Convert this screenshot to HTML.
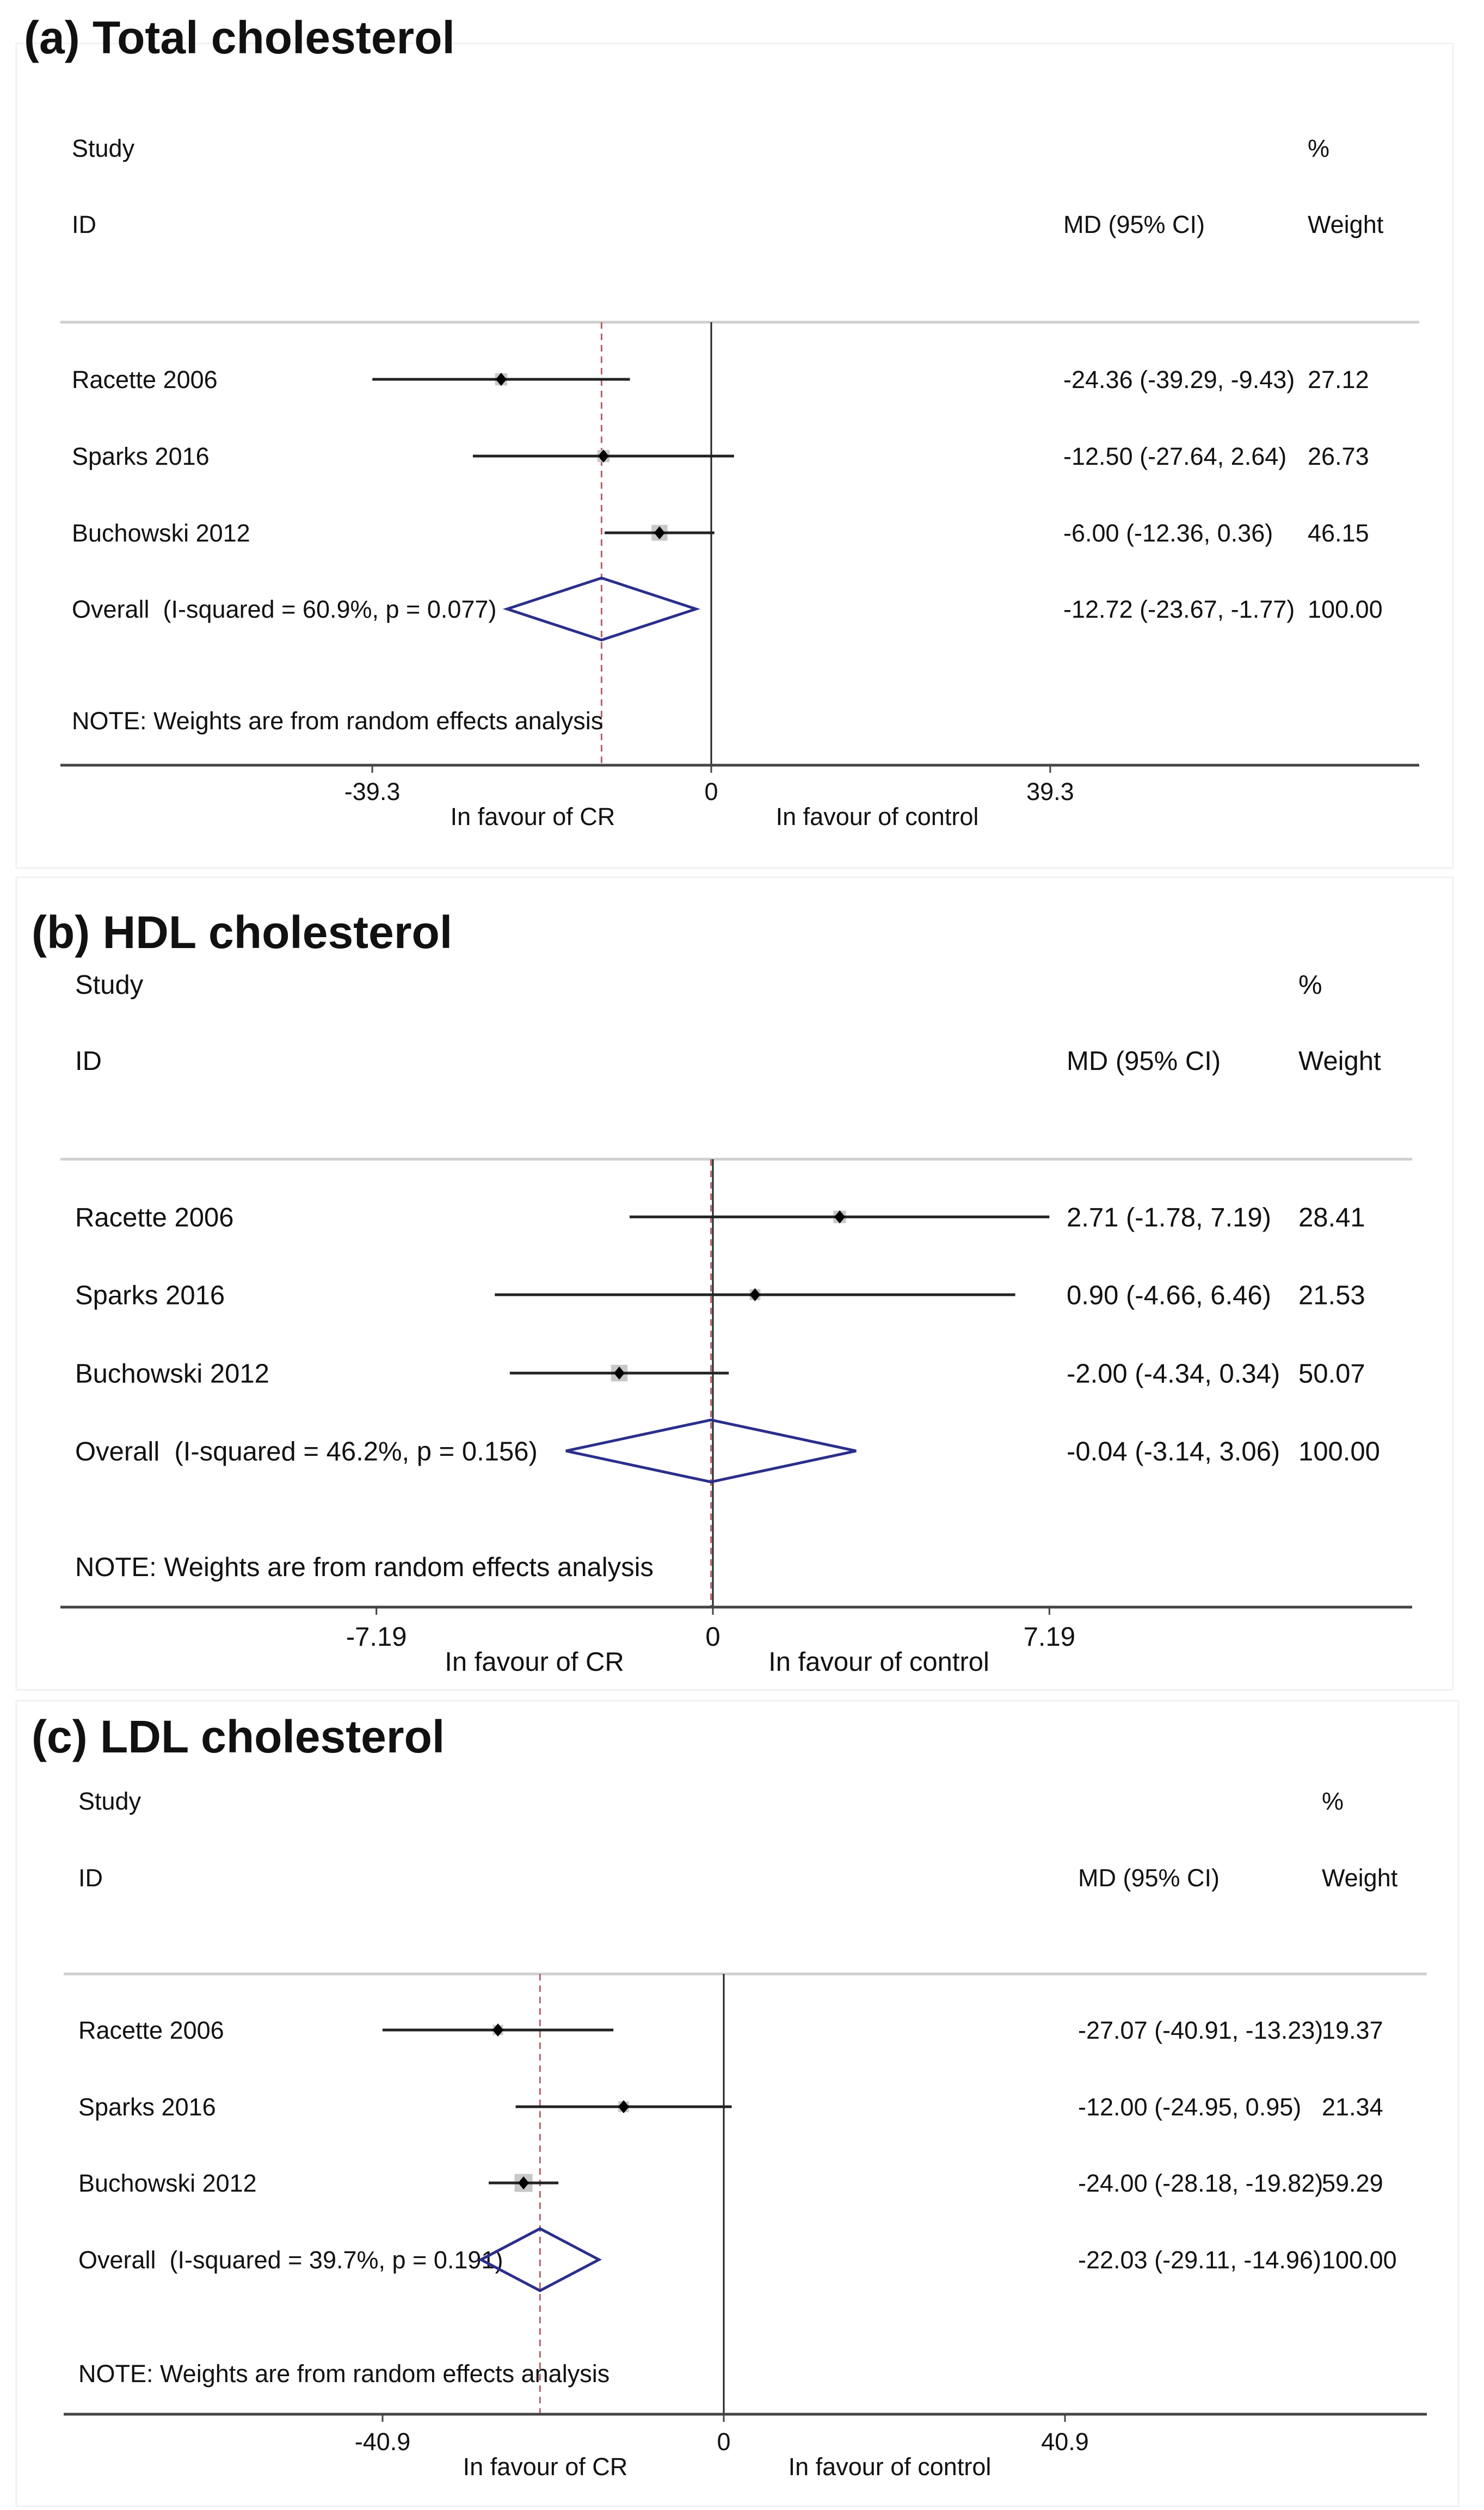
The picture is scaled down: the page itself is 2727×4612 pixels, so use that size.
<!DOCTYPE html>
<html><head><meta charset="utf-8"><style>
html,body{margin:0;padding:0;background:#fff;}
svg{display:block;}
text{font-family:"Liberation Sans",Arial,sans-serif;fill:#111;white-space:pre;}
</style></head>
<body>
<svg id="chart" width="2727" height="4612" viewBox="0 0 2727 4612" xmlns="http://www.w3.org/2000/svg"></svg>
<script>
const studyNames = ["Racette 2006", "Sparks 2016", "Buchowski 2012"];
// Panel a: Total cholesterol
const tcMean = [-24.36, -12.50, -6.00];
const tcLow = [-39.29, -27.64, -12.36];
const tcHigh = [-9.43, 2.64, 0.36];
const tcWeight = [27.12, 26.73, 46.15];
const tcOverall = [-12.72, -23.67, -1.77];
const tcCiLabels = ["-24.36 (-39.29, -9.43)", "-12.50 (-27.64, 2.64)", "-6.00 (-12.36, 0.36)", "-12.72 (-23.67, -1.77)"];
const tcWeightLabels = ["27.12", "26.73", "46.15", "100.00"];
const tcTicks = ["-39.3", "0", "39.3"];
const tcTickValues = [-39.3, 0, 39.3];
// Panel b: HDL
const hdlMean = [2.71, 0.90, -2.00];
const hdlLow = [-1.78, -4.66, -4.34];
const hdlHigh = [7.19, 6.46, 0.34];
const hdlWeight = [28.41, 21.53, 50.07];
const hdlOverall = [-0.04, -3.14, 3.06];
const hdlCiLabels = ["2.71 (-1.78, 7.19)", "0.90 (-4.66, 6.46)", "-2.00 (-4.34, 0.34)", "-0.04 (-3.14, 3.06)"];
const hdlWeightLabels = ["28.41", "21.53", "50.07", "100.00"];
const hdlTicks = ["-7.19", "0", "7.19"];
const hdlTickValues = [-7.19, 0, 7.19];
// Panel c: LDL
const ldlMean = [-27.07, -12.00, -24.00];
const ldlLow = [-40.91, -24.95, -28.18];
const ldlHigh = [-13.23, 0.95, -19.82];
const ldlWeight = [19.37, 21.34, 59.29];
const ldlOverall = [-22.03, -29.11, -14.96];
const ldlCiLabels = ["-27.07 (-40.91, -13.23)", "-12.00 (-24.95, 0.95)", "-24.00 (-28.18, -19.82)", "-22.03 (-29.11, -14.96)"];
const ldlWeightLabels = ["19.37", "21.34", "59.29", "100.00"];
const ldlTicks = ["-40.9", "0", "40.9"];
const ldlTickValues = [-40.9, 0, 40.9];

const NS = "http://www.w3.org/2000/svg";
const svg = document.getElementById("chart");
function mk(tag, attrs, parent, txt) {
  const e = document.createElementNS(NS, tag);
  for (const k in attrs) e.setAttribute(k, attrs[k]);
  if (txt !== undefined) e.textContent = txt;
  (parent || svg).appendChild(e);
  return e;
}

const panels = [
  {key:"total", title:"(a) Total cholesterol", box:[30,80,2670,1595], titleY:98, titleX:44,
   studyY:288, idY:428, topLine:592, rows:[697,838,979,1119], noteY:1340, axisY:1406, tickY:1470, favY:1516,
   lx:111, rx:2608, zeroX:1307, ppu:15.85, textX:132, ciX:1954, wX:2403, fs:45,
   mean:tcMean, low:tcLow, high:tcHigh, weight:tcWeight, overall:tcOverall, ciL:tcCiLabels, wL:tcWeightLabels, ticks:tcTicks, tv:tcTickValues, ov:"60.9%, p = 0.077)"},
  {key:"hdl", title:"(b) HDL cholesterol", box:[30,1612,2670,3105], titleY:1742, titleX:58,
   studyY:1826, idY:1966, topLine:2130, rows:[2236,2379,2523,2666], noteY:2896, axisY:2953, tickY:3024, favY:3070,
   lx:111, rx:2595, zeroX:1310, ppu:86.0, textX:138, ciX:1960, wX:2386, fs:49,
   mean:hdlMean, low:hdlLow, high:hdlHigh, weight:hdlWeight, overall:hdlOverall, ciL:hdlCiLabels, wL:hdlWeightLabels, ticks:hdlTicks, tv:hdlTickValues, ov:"46.2%, p = 0.156)"},
  {key:"ldl", title:"(c) LDL cholesterol", box:[30,3125,2680,4605], titleY:3220, titleX:58,
   studyY:3325, idY:3466, topLine:3627, rows:[3730,3871,4011,4152], noteY:4377, axisY:4436, tickY:4502, favY:4548,
   lx:117, rx:2622, zeroX:1330, ppu:15.33, textX:144, ciX:1981, wX:2429, fs:45,
   mean:ldlMean, low:ldlLow, high:ldlHigh, weight:ldlWeight, overall:ldlOverall, ciL:ldlCiLabels, wL:ldlWeightLabels, ticks:ldlTicks, tv:ldlTickValues, ov:"39.7%, p = 0.191)"}
];

panels.forEach(p => {
  const g = mk("g", {});
  
  
  const xs = v => p.zeroX + v * p.ppu;
  const box = mk("rect", {x:p.box[0], y:p.box[1], width:p.box[2]-p.box[0], height:p.box[3]-p.box[1], fill:"none", stroke:"#f2f2f2", "stroke-width":3}, g);
  
  
  const t = mk("text", {x:p.titleX, y:p.titleY, "font-size":84, "font-weight":"bold", fill:"#000"}, g, p.title);
  
  
  const hdrs = [["Study",p.textX,p.studyY,"study-header"],["%",p.wX,p.studyY,"percent-header"],["ID",p.textX,p.idY,"id-header"],["MD (95% CI)",p.ciX,p.idY,"md-ci-header"],["Weight",p.wX,p.idY,"weight-header"]];
  hdrs.forEach(h => {
    const e = mk("text", {x:h[1], y:h[2], "font-size":p.fs}, g, h[0]);
    
    
  });
  const tl = mk("line", {x1:p.lx, x2:p.rx, y1:p.topLine, y2:p.topLine, stroke:"#cfcfcf", "stroke-width":5}, g);
  
  
  const zl = mk("line", {x1:xs(0), x2:xs(0), y1:p.topLine, y2:p.axisY, stroke:"#222", "stroke-width":3}, g);
  
  
  const rl = mk("line", {x1:xs(p.overall[0]), x2:xs(p.overall[0]), y1:p.topLine, y2:p.axisY, stroke:"#b5606a", "stroke-width":3, "stroke-dasharray":"12,9"}, g);
  
  
  for (let i = 0; i < 3; i++) {
    const y = p.rows[i];
    const lab = mk("text", {x:p.textX, y:y+p.fs*0.36, "font-size":p.fs}, g, studyNames[i]);
    
    
    const s = 4.3 * Math.sqrt(p.weight[i]);
    const sq = mk("rect", {x:xs(p.mean[i])-s/2, y:y-s/2, width:s, height:s, fill:"#c8c8c8"}, g);
    
    
    const ci = mk("line", {x1:xs(p.low[i]), x2:xs(p.high[i]), y1:y, y2:y, stroke:"#222", "stroke-width":5}, g);
    
    
    const m = xs(p.mean[i]);
    const pt = mk("polygon", {points:`${m},${y-12} ${m+10},${y} ${m},${y+12} ${m-10},${y}`, fill:"#000"}, g);
    
    
  }
  for (let i = 0; i < 4; i++) {
    const y = p.rows[i] + p.fs*0.36;
    const c = mk("text", {x:p.ciX, y:y, "font-size":p.fs}, g, p.ciL[i]);
    
    
    const w = mk("text", {x:p.wX, y:y, "font-size":p.fs}, g, p.wL[i]);
    
    
  }
  const oy = p.rows[3];
  const ol = mk("text", {x:p.textX, y:oy+p.fs*0.36, "font-size":p.fs}, g, "Overall\u00a0\u00a0(I-squared = " + p.ov);
  
  
  const dm = xs(p.overall[0]), dl = xs(p.overall[1]), dr = xs(p.overall[2]);
  const dia = mk("polygon", {points:`${dl},${oy} ${dm},${oy-57} ${dr},${oy} ${dm},${oy+57}`, fill:"none", stroke:"#2a2f8c", "stroke-width":5}, g);
  
  
  const note = mk("text", {x:p.textX, y:p.noteY, "font-size":p.fs}, g, "NOTE: Weights are from random effects analysis");
  
  
  const ax = mk("line", {x1:p.lx, x2:p.rx, y1:p.axisY, y2:p.axisY, stroke:"#444", "stroke-width":5}, g);
  
  
  for (let i = 0; i < p.tv.length; i++) {
    const x = xs(p.tv[i]);
    const tk = mk("line", {x1:x, x2:x, y1:p.axisY, y2:p.axisY+14, stroke:"#444", "stroke-width":3}, g);
    
    
    const tt = mk("text", {x:x, y:p.tickY, "font-size":p.fs, "text-anchor":"middle"}, g, p.ticks[i]);
    
    
  }
  const f1 = mk("text", {x:xs(0)-328, y:p.favY, "font-size":p.fs, "text-anchor":"middle"}, g, "In favour of CR");
  
  
  const f2 = mk("text", {x:xs(0)+305, y:p.favY, "font-size":p.fs, "text-anchor":"middle"}, g, "In favour of control");
  
  
});
</script>
</body></html>
